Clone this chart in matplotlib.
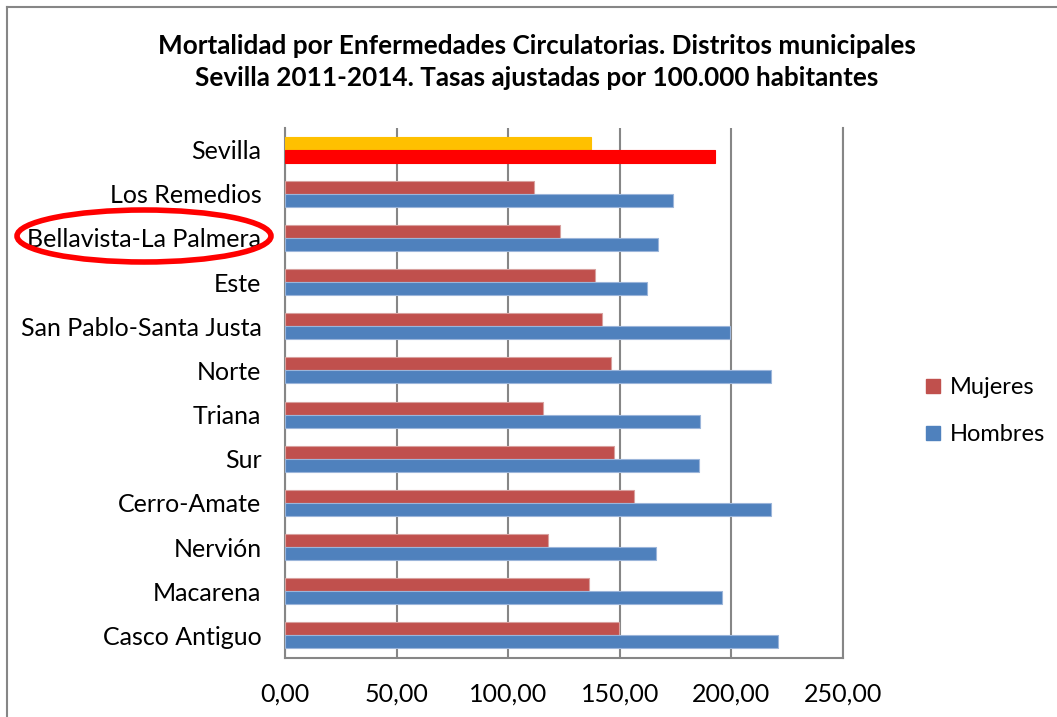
import numpy as np
import matplotlib
matplotlib.use('Agg')
import matplotlib.pyplot as plt
from matplotlib.patches import Ellipse
from matplotlib.lines import Line2D
import matplotlib.ticker as mtick

# district names, top to bottom
DISTRITOS = ['Sevilla', 'Los Remedios', 'Bellavista-La Palmera', 'Este',
             'San Pablo-Santa Justa', 'Norte', 'Triana', 'Sur',
             'Cerro-Amate', 'Nervión', 'Macarena', 'Casco Antiguo']

# adjusted rates per 100.000 inhabitants
MUJERES = [136.9, 111.7, 123.2, 138.7, 142.0, 146.2, 115.7, 147.5,
           156.5, 117.8, 136.4, 149.5]
HOMBRES = [192.7, 173.7, 167.3, 162.2, 199.4, 217.8, 186.0, 185.5,
           217.8, 166.3, 195.7, 220.9]

X_TICKS = [0, 50, 100, 150, 200, 250]

TITULO = ('Mortalidad por Enfermedades Circulatorias. Distritos municipales\n'
          'Sevilla 2011-2014. Tasas ajustadas por 100.000 habitantes')

ROJO_M = '#C0504D'
AZUL_H = '#4F81BD'
GRIS = '#868686'

plt.rcParams['font.family'] = ['Lato', 'DejaVu Sans']

W, H = 1057, 717
fig = plt.figure(figsize=(W / 100, H / 100), dpi=100)

# plot area placed in pixel terms
left, right, top, bottom = 285, 843, 127.5, 657.5
ax = fig.add_axes([left / W, 1 - bottom / H, (right - left) / W, (bottom - top) / H])

y = np.arange(len(DISTRITOS))
h = 0.295

# the city total gets its own highlight colours
col_m = ['#FFC000'] + [ROJO_M] * (len(DISTRITOS) - 1)
col_h = ['#FF0000'] + [AZUL_H] * (len(DISTRITOS) - 1)
edge_m = ['#FFC000'] + ['#D8A09E'] * (len(DISTRITOS) - 1)
edge_h = ['#FF0000'] + ['#9BB5DA'] * (len(DISTRITOS) - 1)

ax.barh(y - h / 2, MUJERES, height=h, color=col_m, edgecolor=edge_m, linewidth=0.8, zorder=3)
ax.barh(y + h / 2, HOMBRES, height=h, color=col_h, edgecolor=edge_h, linewidth=0.8, zorder=3)

ax.set_ylim(len(DISTRITOS) - 0.5, -0.5)
ax.set_xlim(0, 250)
ax.set_yticks(y)
ax.set_yticklabels(DISTRITOS, fontsize=18)
ax.set_xticks(X_TICKS)
ax.xaxis.set_major_formatter(mtick.FuncFormatter(lambda v, p: f'{v:.2f}'.replace('.', ',')))
ax.tick_params(axis='x', labelsize=18, length=0, pad=18)
ax.tick_params(axis='y', length=0, pad=17)

ax.grid(axis='x', color=GRIS, linewidth=1.5, zorder=0)
ax.set_axisbelow(True)
ax.spines['top'].set_visible(False)
for s in ['left', 'bottom', 'right']:
    ax.spines[s].set_color(GRIS)
    ax.spines[s].set_linewidth(1.5)

# legend handles drawn as plain squares
handles = [Line2D([], [], marker='s', linestyle='', markersize=10.5, color=c) for c in (ROJO_M, AZUL_H)]
fig.legend(handles, ['Mujeres', 'Hombres'], loc='center left',
           bbox_to_anchor=(922 / W, 1 - 411 / H), frameon=False, fontsize=17,
           handlelength=0.9, handletextpad=0.3, labelspacing=1.1, borderpad=0,
           borderaxespad=0)

fig.text(537 / W, 1 - 62 / H, TITULO, ha='center', va='center', fontsize=18.8,
         fontweight='bold', linespacing=1.38)

# chart area frame (only top and left edges are inside the image)
fig.add_artist(Line2D([7 / W, 7 / W], [0, 1 - 7 / H], transform=fig.transFigure, color=GRIS, linewidth=1.5))
fig.add_artist(Line2D([7 / W, 1], [1 - 7 / H, 1 - 7 / H], transform=fig.transFigure, color=GRIS, linewidth=1.5))

# highlight ring around Bellavista-La Palmera
fig.add_artist(Ellipse((144 / W, 1 - 236 / H), 254 / W, 52 / H, transform=fig.transFigure,
                       fill=False, edgecolor='#FF0000', linewidth=4))

fig.savefig('out.png', dpi=100, facecolor='white')
